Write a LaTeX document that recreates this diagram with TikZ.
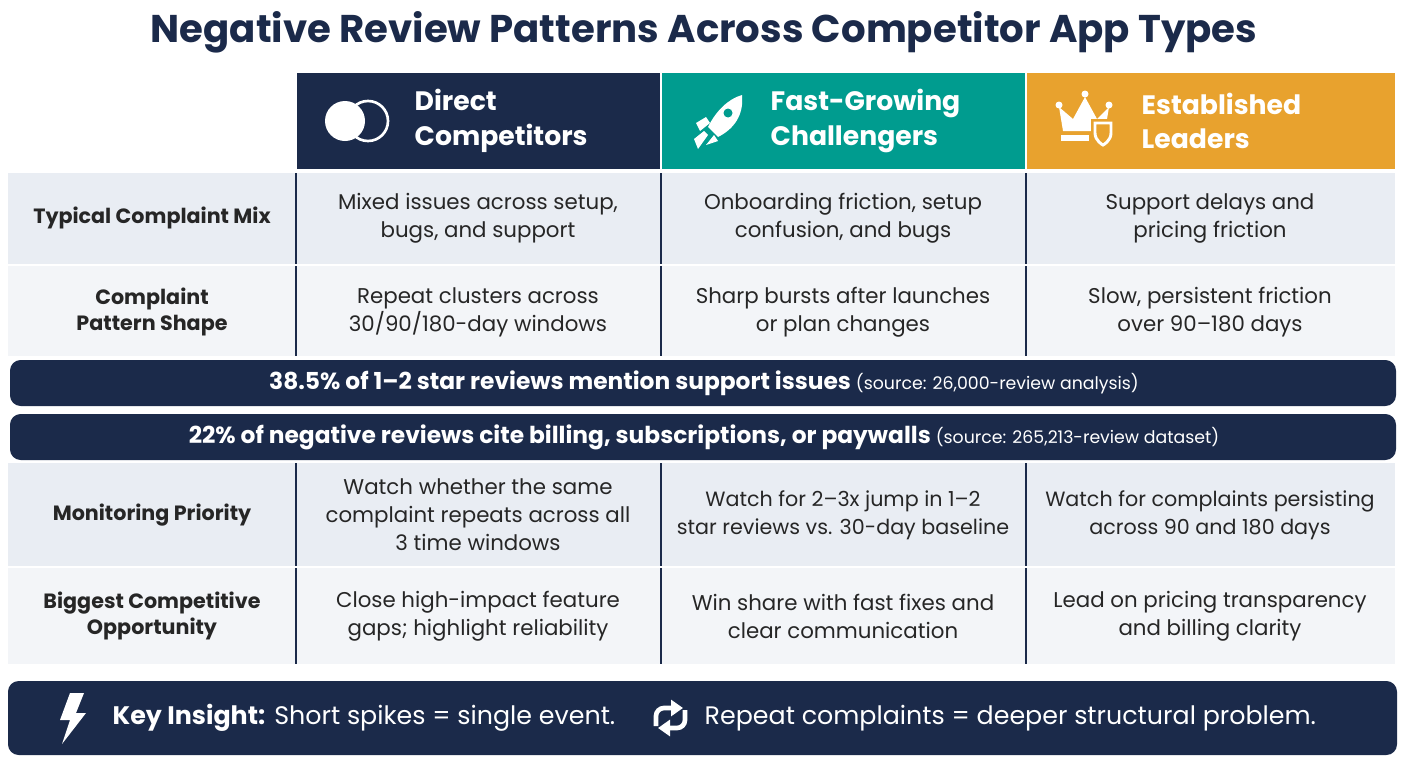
\documentclass[tikz,border=0pt]{standalone}
\usepackage{fontspec}
\setmainfont{Poppins}
\usepackage{xcolor}
\usetikzlibrary{arrows.meta,positioning}
\definecolor{navy}{HTML}{1B2A4A}
\definecolor{teal}{HTML}{009C8F}
\definecolor{gold}{HTML}{E8A22E}
\definecolor{rowA}{HTML}{E9EDF3}
\definecolor{rowB}{HTML}{F3F5F8}
\begin{document}
\begin{tikzpicture}[x=0.75pt,y=-0.75pt]
      \tikzstyle{head_text}=[text=white,font=\fontsize{20}{26}\selectfont\bfseries,align=left,anchor=west]
      \tikzstyle{cell}=[font=\fontsize{16}{21}\selectfont,text=black!85,align=center]
      \tikzstyle{row_label}=[cell,font=\fontsize{15.5}{20}\selectfont\bfseries]
      \tikzstyle{banner}=[fill=navy,rounded corners=8pt]
      \tikzstyle{banner_text}=[text=white,font=\fontsize{17.5}{20}\selectfont\bfseries]
      \tikzstyle{divider}=[draw=navy,line width=2pt]

      \fill[white] (0,0) rectangle (1408,768);
      \node (title) at (704,32) [text=navy,font=\fontsize{29}{32}\selectfont\bfseries] {Negative Review Patterns Across Competitor App Types};

      % header row
      \fill[navy] (297,73) rectangle (660,169);
      \fill[teal] (662,73) rectangle (1025,169);
      \fill[gold] (1027,73) rectangle (1395,169);
      \node (h1) at (410,121) [head_text] {Direct\\Competitors};
      \node (h2) at (766,121) [head_text] {Fast-Growing\\Challengers};
      \node (h3) at (1137,121) [head_text] {Established\\Leaders};

      % header icons
      \fill[white] (345,121) circle (20);
      \draw[white,line width=2pt] (368,121) circle (20);
      \begin{scope}[shift={(720,121)}]
        \fill[white] (22,-26) .. controls (8,-22) and (-4,-10) .. (-12,6) -- (-2,16) .. controls (14,8) and (24,-6) .. cycle;
        \fill[teal] (8,-8) circle (4.5);
        \fill[white] (-14,-4) -- (-24,2) -- (-20,10) -- (-10,2) -- cycle;
        \fill[white] (-6,14) -- (-14,24) -- (-2,20) -- cycle;
        \fill[white] (-26,18) -- (-16,10) -- (-12,14) -- (-22,28) -- cycle;
      \end{scope}
      \begin{scope}[shift={(1085,121)}]
        \fill[white] (-26,-14) -- (-12,-2) -- (0,-24) -- (12,-2) -- (24,-14) -- (20,10) -- (-22,10) -- cycle;
        \fill[white] (-26,-16) circle (3.5) (0,-27) circle (3.5) (24,-16) circle (3.5);
        \fill[white] (-24,14) rectangle (4,20);
        \fill[gold] (6,-2) rectangle (30,28);
        \draw[white,line width=2.2pt] (10,2) -- (26,2) -- (26,12) .. controls (26,20) and (18,24) .. (18,24) .. controls (18,24) and (10,20) .. (10,12) -- cycle;
      \end{scope}

      % body rows
      \fill[rowA] (8,173) rectangle (1395,264);
      \fill[rowB] (8,266) rectangle (1395,356);
      \fill[rowA] (8,463) rectangle (1395,566);
      \fill[rowB] (8,568) rectangle (1395,664);
      \foreach \x in {296,661,1026} {
        \draw[divider] (\x,173) -- (\x,356);
        \draw[divider] (\x,463) -- (\x,664);
      }
      \draw[white,line width=2pt] (8,265) -- (1395,265) (8,567) -- (1395,567);

      \node (mix) at (152,218) [row_label] {Typical Complaint Mix};
      \node (mix1) at (478,218) [cell] {Mixed issues across setup,\\bugs, and support};
      \node (mix2) at (843,218) [cell] {Onboarding friction, setup\\confusion, and bugs};
      \node (mix3) at (1210,218) [cell] {Support delays and\\pricing friction};

      \node (shape) at (152,312) [row_label] {Complaint\\Pattern Shape};
      \node (shape1) at (478,312) [cell] {Repeat clusters across\\30/90/180-day windows};
      \node (shape2) at (843,312) [cell] {Sharp bursts after launches\\or plan changes};
      \node (shape3) at (1210,312) [cell] {Slow, persistent friction\\over 90–180 days};

      % banners
      \fill[banner] (10,360) rectangle (1396,406);
      \node (support) at (704,383) [banner_text] {38.5\% of 1–2 star reviews mention support issues {\mdseries\fontsize{13}{15}\selectfont (source: 26,000-review analysis)}};
      \fill[banner] (10,414) rectangle (1396,460);
      \node (billing) at (704,437) [banner_text] {22\% of negative reviews cite billing, subscriptions, or paywalls {\mdseries\fontsize{13}{15}\selectfont (source: 265,213-review dataset)}};

      \node (prio) at (152,515) [row_label] {Monitoring Priority};
      \node (prio1) at (478,515) [cell] {Watch whether the same\\complaint repeats across all\\3 time windows};
      \node (prio2) at (843,515) [cell,font=\fontsize{15.5}{21}\selectfont] {Watch for 2–3x jump in 1–2\\star reviews vs. 30-day baseline};
      \node (prio3) at (1210,515) [cell,font=\fontsize{15.5}{21}\selectfont] {Watch for complaints persisting\\across 90 and 180 days};

      \node (opp) at (152,616) [row_label] {Biggest Competitive\\Opportunity};
      \node (opp1) at (478,616) [cell] {Close high-impact feature\\gaps; highlight reliability};
      \node (opp2) at (843,616) [cell] {Win share with fast fixes and\\clear communication};
      \node (opp3) at (1210,616) [cell] {Lead on pricing transparency\\and billing clarity};

      % key insight
      \fill[banner] (8,681) rectangle (1397,755);
      \fill[white] (70,693) -- (84,693) -- (76,713) -- (86,713) -- (62,744) -- (70,720) -- (60,720) -- cycle;
      \draw[white,line width=3.5pt,-{Triangle[length=9pt,width=12pt]}] (656,726) -- (656,716) arc (180:270:8) -- (683,708);
      \draw[white,line width=3.5pt,-{Triangle[length=9pt,width=12pt]}] (685,710) -- (685,720) arc (0:90:8) -- (658,728);
      \node (key) at (108,718) [anchor=west,text=white,font=\fontsize{19}{22}\selectfont] {\textbf{Key Insight:} Short spikes = single event.};
      \node (repeat) at (700,718) [anchor=west,text=white,font=\fontsize{19}{22}\selectfont] {Repeat complaints = deeper structural problem.};
\end{tikzpicture}
\end{document}
